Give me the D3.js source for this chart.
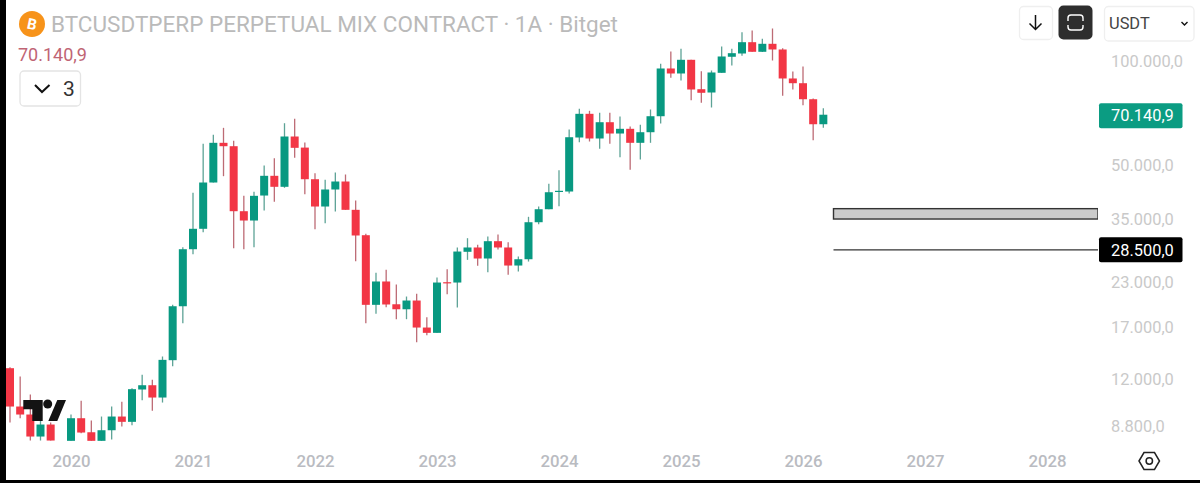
<!DOCTYPE html>
<html>
<head>
<meta charset="utf-8">
<script src="https://cdn.jsdelivr.net/npm/d3@7/dist/d3.min.js"></script>
<style>
html, body { margin: 0; padding: 0; background: #fff; }
svg { display: block; font-family: Roboto, sans-serif; }
</style>
</head>
<body>
<svg id="chart" width="1200" height="483"></svg>
<script>
// monthly candles, first entry is Jul 2019 (month -6), Dec 2019 is missing on the chart
let firstMonth = -6;
let open = [12950,10030,9510,8212,8896,null,7980,9278,8450,7980,8564,9383,9057,11236,11560,10650,13660,19570,28620,32790,44640,58160,56860,36870,34650,40930,46680,43380,60660,56340,45630,38040,42610,44940,37210,31420,19755,23080,19830,19180,20330,16980,16390,22970,22920,28130,28950,26900,30190,28950,25670,26770,34260,37360,42040,42040,60260,70560,59860,66720,61880,63850,58160,62420,69440,95450,92320,101140,83140,81330,92730,103200,105480,113730,106680,112520,108340,89300,86530,77770,65830];
let high = [13030,12250,10870,9136,9015,null,9510,10420,9136,9383,10030,10350,11335,12390,11984,14000,19755,29000,41680,57770,61340,64270,58940,40850,41960,50000,52490,66280,68250,58280,47500,45450,47720,47090,39590,31710,24450,24950,22620,20880,21260,18190,23700,25040,28950,30800,29470,31150,31570,29990,27260,35520,38040,44250,48450,63560,72960,71990,71030,71030,69300,64840,65570,72620,98470,106900,108840,101140,93740,94180,110530,108840,121570,122960,116340,124610,109280,93550,96730,78150,73280];
let low = [9015,9278,7996,7996,7996,null,7980,8393,7980,7980,8050,8778,8854,10460,9747,10300,13120,17470,27680,32050,44640,46560,28810,28620,29000,37040,39250,43090,52630,41290,32700,34030,36790,37210,26420,17470,18600,19440,17950,17950,15390,16130,16390,21200,19400,26660,25620,24550,28570,24130,24670,26360,33800,37360,38110,41480,58390,58670,55880,57770,52840,48580,52040,58160,66150,89700,88100,77260,75940,73600,92730,97370,103880,106680,106470,100670,79560,82980,74730,59180,64270];
let close = [10030,9510,8212,8896,7996,null,9278,8434,7980,8564,9383,9057,11260,11560,10650,13690,19570,28620,32790,44640,58160,56860,36870,34650,40850,46680,43380,60660,56250,45630,38040,42610,44940,37210,31360,19755,23080,19800,19180,20330,16980,16390,22920,22920,28180,28950,26900,30190,28950,25670,26770,34260,37360,41840,42240,60370,70560,59860,66720,61880,63850,58160,62420,69440,95450,92320,101140,82980,81170,92940,103400,105700,113730,106680,112520,108340,89300,86530,77770,65830,70140.9];

let yearLabels = [2020, 2021, 2022, 2023, 2024, 2025, 2026, 2027, 2028];
let priceTicks = [100000, 50000, 35000, 23000, 17000, 12000, 8800];

let lastPrice = 70140.9;
let zoneLow = 35000, zoneHigh = 37500, levelPrice = 28500;
let drawingStart = 75; // month the zone and the level start from

let title = "BTCUSDTPERP PERPETUAL MIX CONTRACT · 1A · Bitget";

let upColor = "#089981", downColor = "#f23645";
let upWick = "#5da396", downWick = "#bd6b75";

let svg = d3.select("#chart");

// scales
let x = d3.scaleLinear().domain([0, 72]).range([71, 803]);
let y = d3.scaleLog().domain([100000, 50000]).range([61.5, 165.5]);

let fmt = d3.formatLocale({ decimal: ",", thousands: ".", grouping: [3], currency: ["", ""] }).format(",.1f");

let candles = open.map((o, i) => ({ m: i + firstMonth, o: o, h: high[i], l: low[i], c: close[i] }))
    .filter(d => d.o !== null);

let plot = svg.append("g");

// wicks
plot.selectAll("line.wick").data(candles).enter().append("line")
    .attr("class", "wick")
    .attr("x1", d => x(d.m)).attr("x2", d => x(d.m))
    .attr("y1", d => y(d.h)).attr("y2", d => y(d.l))
    .attr("stroke", d => d.c >= d.o ? upWick : downWick)
    .attr("stroke-width", 1.3);

// bodies
let barWidth = 8;
plot.selectAll("rect.body").data(candles).enter().append("rect")
    .attr("class", "body")
    .attr("x", d => x(d.m) - barWidth / 2)
    .attr("width", barWidth)
    .attr("y", d => y(Math.max(d.o, d.c)))
    .attr("height", d => Math.max(1.2, Math.abs(y(d.o) - y(d.c))))
    .attr("fill", d => d.c >= d.o ? upColor : downColor);

// horizontal zone and level
let rightEdge = 1098;
svg.append("rect")
    .attr("x", x(drawingStart))
    .attr("y", y(zoneHigh))
    .attr("width", rightEdge - x(drawingStart))
    .attr("height", y(zoneLow) - y(zoneHigh))
    .attr("fill", "#cbcbcb")
    .attr("stroke", "#333")
    .attr("stroke-width", 1.4);
svg.append("line")
    .attr("x1", x(drawingStart)).attr("x2", rightEdge)
    .attr("y1", y(levelPrice)).attr("y2", y(levelPrice))
    .attr("stroke", "#333").attr("stroke-width", 1.3);
// covers the zone's right border under the price scale
svg.append("rect").attr("x", rightEdge).attr("y", 190).attr("width", 102).attr("height", 40).attr("fill", "#fff");

// time axis
let xAxis = d3.axisBottom(x)
    .tickValues(yearLabels.map(yr => (yr - 2020) * 12))
    .tickFormat(m => 2020 + m / 12)
    .tickSize(0);
let xg = svg.append("g").attr("transform", "translate(0,455)").call(xAxis);
xg.select(".domain").remove();
xg.selectAll("text")
    .attr("y", 0).attr("dy", "0.71em")
    .style("font-family", "Roboto, sans-serif")
    .style("font-size", "16.8px").style("font-weight", 500)
    .attr("fill", "#b9bbc1");

// price axis
let yAxis = d3.axisRight(y).tickValues(priceTicks).tickFormat(fmt).tickSize(0);
let yg = svg.append("g").attr("transform", "translate(1111,0)").call(yAxis);
yg.select(".domain").remove();
yg.selectAll("text")
    .attr("x", 0)
    .style("font-family", "Roboto, sans-serif")
    .style("font-size", "16.4px")
    .attr("fill", "#c9c9c9");

// price labels on the scale
function priceLabel(price, fill, cy) {
    svg.append("rect").attr("x", 1099).attr("y", cy - 12.5).attr("width", 83.5).attr("height", 25)
        .attr("rx", 2).attr("fill", fill);
    svg.append("text").attr("x", 1111).attr("y", cy).attr("dy", "0.35em")
        .attr("font-size", 16.4).attr("fill", "#fff").text(fmt(price));
}
priceLabel(lastPrice, "#0b9c82", y(lastPrice) + 1);
priceLabel(levelPrice, "#000", y(levelPrice));

// header
svg.append("circle").attr("cx", 32).attr("cy", 24).attr("r", 13).attr("fill", "#f7931a");
svg.append("text").attr("x", 32).attr("y", 24).attr("dy", "0.36em").attr("text-anchor", "middle")
    .attr("font-size", 15).attr("font-weight", 700).attr("fill", "#fff")
    .attr("transform", "rotate(12 32 24)").text("B");
svg.append("text").attr("x", 51).attr("y", 24).attr("dy", "0.36em")
    .attr("font-size", 22.5).attr("fill", "#bababa").text(title);
svg.append("text").attr("x", 18).attr("y", 54.5).attr("dy", "0.36em")
    .attr("font-size", 18).attr("fill", "#c06474").text(fmt(lastPrice));

// collapsed indicators button
svg.append("rect").attr("x", 20).attr("y", 71).attr("width", 60.5).attr("height", 35).attr("rx", 4)
    .attr("fill", "#fff").attr("stroke", "#e4e4e4").attr("stroke-width", 1.3);
svg.append("path").attr("d", "M35,85 L42,92 L49.5,85").attr("fill", "none").attr("stroke", "#111").attr("stroke-width", 2);
svg.append("text").attr("x", 63).attr("y", 88).attr("dy", "0.36em")
    .attr("font-size", 21).attr("fill", "#333").text("3");

// top right buttons
svg.append("rect").attr("x", 1019.5).attr("y", 6.5).attr("width", 33).attr("height", 33).attr("rx", 4)
    .attr("fill", "#fff").attr("stroke", "#efefef").attr("stroke-width", 1.3);
svg.append("path").attr("d", "M1035.5,15 L1035.5,29.5 M1029.5,23.5 L1035.5,29.5 L1041.5,23.5")
    .attr("fill", "none").attr("stroke", "#111").attr("stroke-width", 1.5);
svg.append("rect").attr("x", 1058.5).attr("y", 5.5).attr("width", 34).attr("height", 34).attr("rx", 5).attr("fill", "#2e2e2e");
svg.append("path").attr("d", "M1068,21 L1068,18 Q1068,15 1071,15 L1080,15 Q1083,15 1083,18 L1083,21 M1068,25 L1068,27 Q1068,30 1071,30 L1080,30 Q1083,30 1083,27 L1083,25")
    .attr("fill", "none").attr("stroke", "#fff").attr("stroke-width", 1.4);
svg.append("rect").attr("x", 1104.5).attr("y", 6.5).attr("width", 89.5).attr("height", 34.5).attr("rx", 4)
    .attr("fill", "#fff").attr("stroke", "#efefef").attr("stroke-width", 1.3);
svg.append("text").attr("x", 1109).attr("y", 23.5).attr("dy", "0.36em")
    .attr("font-size", 16.4).attr("fill", "#444").text("USDT");
svg.append("path").attr("d", "M1181.5,22 L1184.5,25 L1187.5,22").attr("fill", "none").attr("stroke", "#111").attr("stroke-width", 1.4);

// settings hexagon
svg.append("path").attr("d", "M1139,461 L1144,452.5 L1154.5,452.5 L1159.5,461 L1154.5,469.5 L1144,469.5 Z")
    .attr("fill", "none").attr("stroke", "#222").attr("stroke-width", 1.5);
svg.append("circle").attr("cx", 1149.3).attr("cy", 461).attr("r", 3.2)
    .attr("fill", "none").attr("stroke", "#222").attr("stroke-width", 1.5);

// tradingview mark
let logo = svg.append("g").attr("fill", "#131313");
logo.append("path").attr("d", "M23.3,400 L42.7,400 L42.7,421 L32.3,421 L32.3,409.3 L23.3,409.3 Z");
logo.append("circle").attr("cx", 47.7).attr("cy", 404).attr("r", 4.5);
logo.append("path").attr("d", "M57.3,400 L66,400 L57.3,421 L48.3,421 Z");

// screenshot edges
svg.append("rect").attr("x", 0).attr("y", 0).attr("width", 6).attr("height", 483).attr("fill", "#000");
svg.append("rect").attr("x", 0).attr("y", 480).attr("width", 1200).attr("height", 3).attr("fill", "#000");
</script>
</body>
</html>
